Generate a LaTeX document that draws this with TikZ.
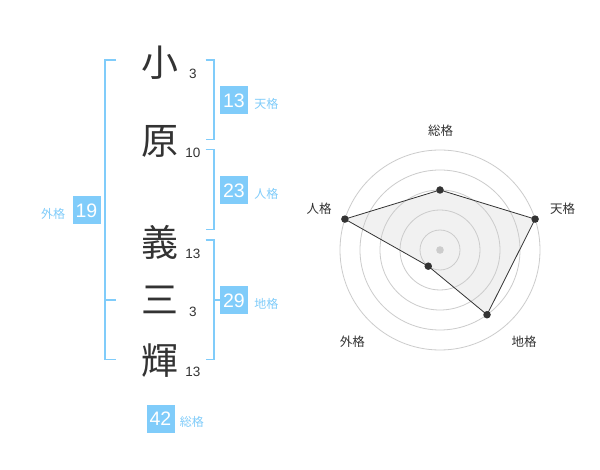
\documentclass[tikz,border=0pt]{standalone}
\usepackage{fontspec}
\setmainfont{Liberation Sans}
\newfontfamily\cjk{Noto Sans CJK JP}
\usetikzlibrary{positioning}
\definecolor{kakublue}{RGB}{128, 204, 250}
\definecolor{inkgray}{RGB}{51, 51, 51}
\definecolor{ringgray}{RGB}{204, 204, 204}
\definecolor{areagray}{RGB}{241, 241, 241}

\tikzset{
    kanji/.style={inner sep=0pt, text=inkgray, font=\cjk\fontsize{37}{37}\selectfont},
    strokes/.style={inner sep=0pt, text=inkgray, font=\fontsize{13.5}{13.5}\selectfont},
    kakubox/.style={fill=kakublue, text=white, minimum width=28pt, minimum height=28pt, inner sep=0pt, font=\fontsize{19.5}{19.5}\selectfont},
    kakuname/.style={inner sep=0pt, text=kakublue, font=\cjk\fontsize{12}{12}\selectfont},
    bracket/.style={draw=kakublue, line width=1.8pt},
    axisname/.style={inner sep=0pt, text=inkgray, font=\cjk\fontsize{12.5}{12.5}\selectfont},
    dot/.style={circle, fill=inkgray, inner sep=0pt, minimum size=7.5pt}
}

\begin{document}
\begin{tikzpicture}[x=1pt, y=-1pt]
\useasboundingbox[fill=white] (0,0) rectangle (600,470);

% Name characters and stroke counts
\foreach \n/\ch/\y/\s in {1/小/62.5/3, 2/原/141.5/10, 3/義/242/13, 4/三/300/3, 5/輝/360.5/13} {
    \node[kanji] (k\n) at (160,\y) {\ch};
    \node[strokes] (s\n) at (193,\y+11.5) {\s};
}

% Brackets
\draw[bracket] (116,60) -- (105,60) -- (105,359.5) -- (116,359.5);
\draw[bracket] (105,300) -- (116,300);
\draw[bracket] (205.5,60) -- (214,60) -- (214,139.5) -- (205.5,139.5);
\draw[bracket] (205.5,149.5) -- (214,149.5) -- (214,229.5) -- (205.5,229.5);
\draw[bracket] (205.5,240) -- (214,240) -- (214,359.5) -- (205.5,359.5);
\draw[bracket] (214,300) -- (221,300);

% Kaku boxes
\node[kakubox] (ten) at (234,100.5) {13};
\node[kakuname, right=6pt of ten, yshift=-3pt] (tenl) {天格};
\node[kakubox] (jin) at (234,190.5) {23};
\node[kakuname, right=6pt of jin, yshift=-3pt] (jinl) {人格};
\node[kakubox] (chi) at (234,300.5) {29};
\node[kakuname, right=6pt of chi, yshift=-3pt] (chil) {地格};
\node[kakubox] (gai) at (86.5,210.5) {19};
\node[kakuname, left=7pt of gai, yshift=-3pt] (gail) {外格};
\node[kakubox] (sou) at (160.5,419) {42};
\node[kakuname, right=5pt of sou, yshift=-3pt] (soul) {総格};

% Radar chart
\begin{scope}[shift={(440,250)}, y=1pt]
    \coordinate (p1) at (90:60);
    \coordinate (p2) at (18:100);
    \coordinate (p3) at (-54:80);
    \coordinate (p4) at (-126:20);
    \coordinate (p5) at (162:100);
    \fill[areagray] (p1) -- (p2) -- (p3) -- (p4) -- (p5) -- cycle;
    \foreach \r in {20,40,...,100} {
        \draw[ringgray, line width=0.8pt] (0,0) circle (\r);
    }
    \fill[ringgray] (0,0) circle (3.8);
    \draw[inkgray, line width=0.8pt] (p1) -- (p2) -- (p3) -- (p4) -- (p5) -- cycle;
    \foreach \i in {1,...,5} {
        \node[dot] (d\i) at (p\i) {};
    }
    \node[axisname] (a1) at (0.7,119.3) {総格};
    \node[axisname] (a2) at (122.7,41) {天格};
    \node[axisname] (a3) at (84,-91.7) {地格};
    \node[axisname] (a4) at (-87.7,-91.7) {外格};
    \node[axisname] (a5) at (-121,41) {人格};
\end{scope}

\end{tikzpicture}
\end{document}
